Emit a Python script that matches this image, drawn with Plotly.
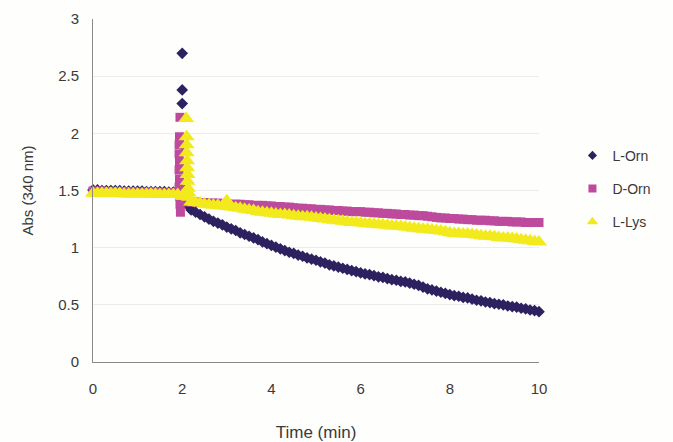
import plotly.graph_objects as go

# ---------------- data ----------------
t_pre = [0.0, 0.1, 0.2, 0.3, 0.4, 0.5, 0.6, 0.7, 0.8, 0.9,
         1.0, 1.1, 1.2, 1.3, 1.4, 1.5, 1.6, 1.7, 1.8, 1.9]

t_main = [2.2, 2.3, 2.4, 2.5, 2.6, 2.7, 2.8, 2.9, 3.0, 3.1, 3.2, 3.3, 3.4, 3.5, 3.6, 3.7, 3.8, 3.9,
          4.0, 4.1, 4.2, 4.3, 4.4, 4.5, 4.6, 4.7, 4.8, 4.9, 5.0, 5.1, 5.2, 5.3, 5.4, 5.5, 5.6, 5.7,
          5.8, 5.9, 6.0, 6.1, 6.2, 6.3, 6.4, 6.5, 6.6, 6.7, 6.8, 6.9, 7.0, 7.1, 7.2, 7.3, 7.4, 7.5,
          7.6, 7.7, 7.8, 7.9, 8.0, 8.1, 8.2, 8.3, 8.4, 8.5, 8.6, 8.7, 8.8, 8.9, 9.0, 9.1, 9.2, 9.3,
          9.4, 9.5, 9.6, 9.7, 9.8, 9.9, 10.0]

# L-Orn
lorn_pre = [1.505, 1.505, 1.50, 1.50, 1.50, 1.50, 1.50, 1.495, 1.495, 1.495,
            1.495, 1.495, 1.49, 1.49, 1.49, 1.49, 1.49, 1.485, 1.485, 1.485]
lorn_spike_t = [2.0, 2.0, 2.0, 2.0, 2.05, 2.1]
lorn_spike_y = [2.70, 2.38, 2.26, 1.90, 1.50, 1.38]
lorn_main = [1.33, 1.31, 1.29, 1.27, 1.25, 1.23, 1.215, 1.20, 1.18, 1.165, 1.15, 1.13, 1.115, 1.10,
             1.085, 1.07, 1.05, 1.035, 1.02, 1.005, 0.99, 0.975, 0.96, 0.95, 0.935, 0.925, 0.91,
             0.90, 0.89, 0.875, 0.865, 0.85, 0.84, 0.83, 0.82, 0.81, 0.80, 0.79, 0.78, 0.77, 0.765,
             0.755, 0.745, 0.74, 0.73, 0.72, 0.715, 0.705, 0.70, 0.69, 0.68, 0.67, 0.655, 0.64, 0.63,
             0.62, 0.61, 0.60, 0.59, 0.58, 0.575, 0.565, 0.56, 0.55, 0.54, 0.535, 0.525, 0.52, 0.51,
             0.505, 0.50, 0.49, 0.485, 0.48, 0.47, 0.465, 0.455, 0.45, 0.44]

# D-Orn
dorn_pre = [1.495, 1.495, 1.495, 1.49, 1.49, 1.49, 1.49, 1.49, 1.49, 1.49,
            1.485, 1.485, 1.485, 1.485, 1.485, 1.485, 1.48, 1.48, 1.48, 1.48]
dorn_spike_t = [1.95, 1.94, 1.93, 1.93, 1.94, 1.93, 1.94, 1.93, 1.94, 1.95, 1.96, 2.0, 2.05, 2.1]
dorn_spike_y = [2.14, 1.97, 1.90, 1.82, 1.75, 1.68, 1.60, 1.53, 1.45, 1.38, 1.31, 1.42, 1.41, 1.40]
dorn_main = [1.40, 1.40, 1.395, 1.395, 1.39, 1.39, 1.39, 1.385, 1.385, 1.38, 1.38, 1.38, 1.375, 1.375,
             1.37, 1.37, 1.37, 1.365, 1.365, 1.36, 1.36, 1.355, 1.355, 1.35, 1.345, 1.345, 1.34,
             1.34, 1.335, 1.335, 1.33, 1.33, 1.325, 1.325, 1.32, 1.32, 1.315, 1.315, 1.315, 1.31,
             1.31, 1.305, 1.305, 1.30, 1.30, 1.295, 1.295, 1.29, 1.29, 1.285, 1.285, 1.28, 1.28,
             1.275, 1.27, 1.265, 1.26, 1.26, 1.255, 1.255, 1.25, 1.25, 1.245, 1.245, 1.24, 1.24,
             1.24, 1.235, 1.235, 1.23, 1.23, 1.23, 1.225, 1.225, 1.225, 1.22, 1.22, 1.22, 1.22]

# L-Lys
llys_pre = [1.475, 1.475, 1.475, 1.475, 1.475, 1.475, 1.475, 1.47, 1.47, 1.47,
            1.47, 1.47, 1.47, 1.47, 1.47, 1.465, 1.465, 1.465, 1.465, 1.465]
llys_spike_t = [2.09, 2.1, 2.1, 2.1, 2.11, 2.11, 2.12, 2.12, 2.13, 2.14, 2.15, 2.0, 2.05]
llys_spike_y = [2.13, 1.97, 1.90, 1.83, 1.76, 1.70, 1.64, 1.58, 1.52, 1.48, 1.44, 1.45, 1.45]
llys_bump_t = [3.0]
llys_bump_y = [1.41]
llys_main = [1.40, 1.395, 1.39, 1.38, 1.375, 1.37, 1.37, 1.365, 1.36, 1.355, 1.35, 1.345, 1.335,
             1.33, 1.325, 1.315, 1.31, 1.305, 1.30, 1.295, 1.29, 1.29, 1.285, 1.28, 1.275, 1.27,
             1.27, 1.265, 1.26, 1.255, 1.25, 1.245, 1.24, 1.235, 1.23, 1.225, 1.22, 1.22, 1.215,
             1.21, 1.21, 1.205, 1.20, 1.20, 1.195, 1.19, 1.19, 1.185, 1.18, 1.175, 1.17, 1.165,
             1.16, 1.16, 1.155, 1.15, 1.145, 1.14, 1.13, 1.125, 1.125, 1.12, 1.12, 1.115, 1.11,
             1.105, 1.10, 1.10, 1.095, 1.09, 1.085, 1.085, 1.08, 1.075, 1.07, 1.065, 1.06, 1.055, 1.05]

x_ticks = [0, 2, 4, 6, 8, 10]
y_ticks = [0, 0.5, 1, 1.5, 2, 2.5, 3]
y_tick_text = ["0", "0.5", "1", "1.5", "2", "2.5", "3"]

# ---------------- figure ----------------
font_family = "Liberation Sans, Arial, sans-serif"
text_color = "#3a3a3a"

series = [
    ("L-Orn", t_pre + lorn_spike_t + t_main, lorn_pre + lorn_spike_y + lorn_main,
     "diamond", 9, 7, "#2d2160"),
    ("D-Orn", t_pre + dorn_spike_t + t_main, dorn_pre + dorn_spike_y + dorn_main,
     "square", 9, 8, "#bd4a9c"),
    ("L-Lys", t_pre + llys_spike_t + llys_bump_t + t_main,
     llys_pre + llys_spike_y + llys_bump_y + llys_main,
     "triangle-up", 14, 10, "#f2ea1c"),
]

fig = go.Figure()
for name, xs, ys, sym, size, lsize, col in series:
    fig.add_trace(go.Scatter(
        x=xs, y=ys, mode="markers", name=name, legendgroup=name, showlegend=False,
        marker=dict(symbol=sym, size=size, color=col, line=dict(width=0)),
        cliponaxis=False,
    ))
for name, xs, ys, sym, size, lsize, col in series:
    fig.add_trace(go.Scatter(
        x=[None], y=[None], mode="markers", name=name, legendgroup=name, showlegend=True,
        marker=dict(symbol=sym, size=lsize, color=col, line=dict(width=0)),
    ))

fig.update_layout(
    width=673, height=442,
    margin=dict(l=93, r=134, t=19, b=80, autoexpand=False),
    paper_bgcolor="#fefefc",
    plot_bgcolor="#fefefc",
    font=dict(family=font_family, size=14, color=text_color),
    showlegend=True,
    legend=dict(
        x=1.075, y=0.505, xanchor="left", yanchor="middle",
        font=dict(size=14, color=text_color),
        tracegroupgap=12, traceorder="grouped",
        itemwidth=30, bgcolor="rgba(0,0,0,0)",
    ),
    xaxis=dict(
        range=[0, 10], tickvals=x_ticks, ticktext=[str(v) for v in x_ticks],
        showgrid=False, zeroline=False, automargin=False,
        showline=True, linecolor="#8a8a8a", linewidth=1,
        ticks="", ticklabelstandoff=13,
        tickfont=dict(size=15, color=text_color),
        title=dict(text="Time (min)", font=dict(size=17, color=text_color), standoff=30),
    ),
    yaxis=dict(
        range=[0, 3], tickvals=y_ticks, ticktext=y_tick_text,
        showgrid=True, gridcolor="#ececec", gridwidth=1,
        zeroline=False, automargin=False,
        showline=True, linecolor="#8a8a8a", linewidth=1,
        ticks="", ticklabelstandoff=10,
        tickfont=dict(size=15, color=text_color),
        title=dict(text="Abs (340 nm)", font=dict(size=15, color=text_color), standoff=20),
    ),
)

fig.write_html("out.html")
